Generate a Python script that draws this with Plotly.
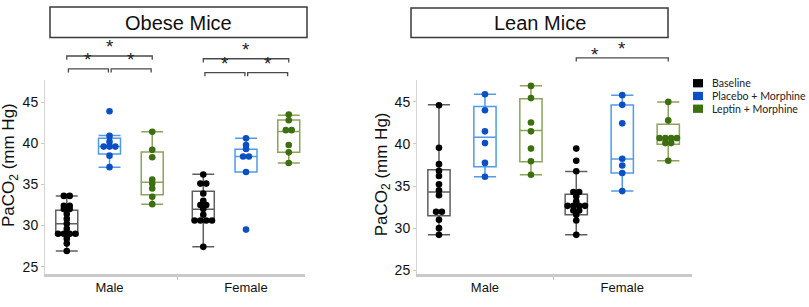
import plotly.graph_objects as go
from collections import Counter

# ---------------- data ----------------
groups = ["Male", "Female"]
series = ["Baseline", "Placebo + Morphine", "Leptin + Morphine"]
panels = ["Obese Mice", "Lean Mice"]
y_ticks = [25, 30, 35, 40, 45]

# Obese mice – individual values (mm Hg)
obese_male_baseline = [33.6, 33.6, 32.4, 32.4, 32.0, 32.0, 31.4, 30.8, 30.2, 29.6,
                       29.0, 29.0, 29.0, 29.0, 28.4, 27.8, 26.9]
obese_male_placebo = [43.9, 40.9, 40.2, 39.6, 39.6, 39.6, 38.5, 37.1]
obese_male_leptin = [41.4, 39.2, 38.3, 35.6, 35.1, 34.5, 33.5, 32.6]
obese_female_baseline = [36.2, 35.1, 35.1, 33.9, 33.0, 32.5, 32.5, 32.0, 31.3,
                         30.6, 30.6, 30.6, 30.6, 27.4]
obese_female_placebo = [40.6, 39.8, 39.3, 38.4, 38.4, 36.5, 29.5]
obese_female_leptin = [43.5, 42.8, 41.6, 41.6, 39.8, 38.9, 37.6]

# Lean mice – individual values (mm Hg)
lean_male_baseline = [44.6, 39.55, 37.6, 36.8, 36.2, 35.2, 34.5, 33.9, 31.95, 31.95,
                      31.0, 30.0, 29.2]
lean_male_placebo = [45.9, 44.0, 41.5, 40.1, 37.75, 36.1]
lean_male_leptin = [46.9, 45.45, 42.55, 41.5, 39.45, 37.95, 36.35]
lean_female_baseline = [39.45, 38.0, 36.75, 34.3, 34.3, 33.8, 33.2, 32.65, 32.65,
                        32.65, 32.65, 32.1, 32.1, 31.6, 30.9, 29.2]
lean_female_placebo = [45.8, 44.65, 42.45, 38.25, 37.45, 36.55, 34.4]
lean_female_leptin = [45.0, 42.8, 40.7, 40.7, 40.7, 40.7, 40.1, 40.1, 38.0]

# Box statistics as drawn: [q1, median, q3, lower fence, upper fence]
obese_male_stats = [[28.8, 30.2, 31.85, 26.9, 33.6],
                    [38.7, 39.6, 40.6, 37.1, 40.95],
                    [33.73, 35.25, 38.95, 32.6, 41.4]]
obese_female_stats = [[30.73, 31.97, 34.17, 27.4, 36.24],
                      [36.5, 38.4, 39.27, 36.5, 40.6],
                      [38.9, 41.45, 42.83, 37.6, 43.4]]
lean_male_stats = [[31.47, 34.3, 36.95, 29.2, 44.65],
                   [37.3, 40.8, 44.45, 36.1, 45.9],
                   [37.9, 41.6, 45.36, 36.33, 46.93]]
lean_female_stats = [[31.58, 32.64, 34.03, 29.2, 36.73],
                     [36.55, 38.2, 44.63, 34.4, 45.8],
                     [39.98, 40.4, 42.33, 38.0, 45.0]]

# significance comparisons: (panel, group, series a, series b, level)
sig_brackets = [(0, 0, 0, 2, "top"), (0, 0, 0, 1, "low"), (0, 0, 1, 2, "low"),
                (0, 1, 0, 2, "top"), (0, 1, 0, 1, "low"), (0, 1, 1, 2, "low"),
                (1, 1, 0, 2, "top")]
sig_lone_stars = [(1, 1, 0, 1, "low")]

values = [
    [[obese_male_baseline, obese_male_placebo, obese_male_leptin],
     [obese_female_baseline, obese_female_placebo, obese_female_leptin]],
    [[lean_male_baseline, lean_male_placebo, lean_male_leptin],
     [lean_female_baseline, lean_female_placebo, lean_female_leptin]],
]
stats = [[obese_male_stats, obese_female_stats], [lean_male_stats, lean_female_stats]]

# ---------------- style ----------------
W, H = 809, 307
ML, MR, MT, MB = 45, 117, 80, 17
PW = W - ML - MR
PH = H - MT - MB

point_colors = ["#000000", "#0a4fc4", "#3d6e10"]
box_colors = ["#5f5f5f", "#519ae6", "#8da35b"]
legend_colors = ["#000000", "#0a50c8", "#3e7010"]

panel_px = [(45, 305), (417, 692)]
x_ranges = [[-0.4725, 1.432], [-0.495, 1.508]]
y_ranges = [[24.1, 47.7], [24.55, 47.6]]
offsets = [0.313, 0.335]
box_w = [0.161, 0.162]
swarm_px = 5.8


def px_x(px):
    return (px - ML) / PW


def px_y(py):
    return (MT + PH - py) / PH


def swarm(vals, step):
    cnt = Counter(vals)
    seen = {}
    out = []
    for v in vals:
        n = cnt[v]
        k = seen.get(v, 0)
        seen[v] = k + 1
        out.append((k - (n - 1) / 2) * step)
    return out


fig = go.Figure()

for p in range(2):
    xa = "x" if p == 0 else "x2"
    ya = "y" if p == 0 else "y2"
    unit_px = (panel_px[p][1] - panel_px[p][0]) / (x_ranges[p][1] - x_ranges[p][0])
    for g in range(2):
        for s in range(3):
            pos = g + (s - 1) * offsets[p]
            q1, med, q3, lf, uf = stats[p][g][s]
            fig.add_trace(go.Box(
                x=[pos], q1=[q1], median=[med], q3=[q3],
                lowerfence=[lf], upperfence=[uf],
                width=box_w[p], whiskerwidth=1, boxpoints=False,
                line=dict(color=box_colors[s], width=1.5),
                fillcolor="rgba(0,0,0,0)", showlegend=False,
                hoverinfo="skip", xaxis=xa, yaxis=ya))
    for g in range(2):
        for s in range(3):
            pos = g + (s - 1) * offsets[p]
            vals = values[p][g][s]
            offs = swarm(vals, swarm_px / unit_px)
            fig.add_trace(go.Scatter(
                x=[pos + o for o in offs], y=vals, mode="markers",
                marker=dict(color=point_colors[s], size=6.6, line=dict(width=0)),
                showlegend=False, xaxis=xa, yaxis=ya, cliponaxis=False))

shapes = []
annotations = []

# axes
axis_common = dict(showgrid=False, zeroline=False)
for p in range(2):
    xname = "xaxis" if p == 0 else "xaxis2"
    yname = "yaxis" if p == 0 else "yaxis2"
    dom = [px_x(panel_px[p][0]), px_x(panel_px[p][1])]
    fig.update_layout(**{
        xname: dict(domain=dom, range=x_ranges[p], tickvals=[0, 1], ticktext=groups,
                    showline=True, linecolor="#c9c9c9", linewidth=2.5, ticks="",
                    tickfont=dict(family="Liberation Sans", size=13, color="#111"),
                    anchor="y" if p == 0 else "y2",
                    minor=dict(tickvals=[0.5], ticks="outside", ticklen=3,
                               tickcolor="#bbbbbb", tickwidth=1),
                    **axis_common),
        yname: dict(domain=[0, 1], range=y_ranges[p], tickvals=y_ticks,
                    showline=True, linecolor="#d6d6d6", linewidth=1,
                    ticks="outside", ticklen=3, tickcolor="#c8c8c8",
                    tickfont=dict(family="Liberation Sans", size=14, color="#111"),
                    anchor="x" if p == 0 else "x2", **axis_common),
    })

# y-axis titles
ytitle_px = [(10, 172), (383, 182)]
for p in range(2):
    annotations.append(dict(
        text="PaCO<sub>2</sub> (mm Hg)", x=px_x(ytitle_px[p][0]), y=px_y(ytitle_px[p][1]),
        xref="paper", yref="paper", showarrow=False, textangle=-90,
        xanchor="center", yanchor="middle",
        font=dict(family="Liberation Sans", size=17, color="#111")))

# panel title boxes
title_box_px = [(50, 1, 307, 34), (411, 2, 668, 34)]
for p in range(2):
    x0, y0, x1, y1 = title_box_px[p]
    shapes.append(dict(type="rect", xref="paper", yref="paper",
                       x0=px_x(x0), x1=px_x(x1), y0=px_y(y1), y1=px_y(y0),
                       line=dict(color="#3a3a3a", width=1.5), fillcolor="white"))
    annotations.append(dict(text=panels[p], x=px_x((x0 + x1) / 2), y=px_y((y0 + y1) / 2 + 0.5),
                            xref="paper", yref="paper", showarrow=False,
                            xanchor="center", yanchor="middle",
                            font=dict(family="Liberation Sans", size=20, color="#111")))

# significance brackets (pixel heights of bracket lines per panel/group)
level_px = {(0, 0): {"top": 54, "low": 68}, (0, 1): {"top": 57, "low": 72},
            (1, 0): {"top": 56, "low": 70}, (1, 1): {"top": 56, "low": 69}}
star_font = dict(family="Liberation Sans", size=19, color="#222")
for (p, g, a, b, lev) in sig_brackets:
    xa = "x" if p == 0 else "x2"
    pa = g + (a - 1) * offsets[p]
    pb = g + (b - 1) * offsets[p]
    if lev == "low":
        pa += 0.012
        pb -= 0.008
    yl = level_px[(p, g)][lev]
    path = "M {a},{t} L {a},{y} L {b},{y} L {b},{t}".format(
        a=pa, b=pb, y=px_y(yl), t=px_y(yl + 4))
    shapes.append(dict(type="path", path=path, xref=xa, yref="paper",
                       line=dict(color="#4a4a4a", width=1.3)))
    annotations.append(dict(text="*", x=(pa + pb) / 2, y=px_y(yl - 2), xref=xa, yref="paper",
                            showarrow=False, xanchor="center", yanchor="bottom",
                            yshift=-5, font=star_font))
for (p, g, a, b, lev) in sig_lone_stars:
    xa = "x" if p == 0 else "x2"
    pa = g + (a - 1) * offsets[p]
    pb = g + (b - 1) * offsets[p]
    annotations.append(dict(text="*", x=(pa + pb) / 2 - 0.03, y=px_y(61), xref=xa, yref="paper",
                            showarrow=False, xanchor="center", yanchor="bottom",
                            yshift=-5, font=star_font))

# legend (drawn manually)
leg_x, leg_y0, leg_dy = 693, 83.5, 13.8
for i, name in enumerate(series):
    cy = leg_y0 + i * leg_dy
    shapes.append(dict(type="rect", xref="paper", yref="paper",
                       x0=px_x(leg_x), x1=px_x(leg_x + 10),
                       y0=px_y(cy + 4.5), y1=px_y(cy - 4.5),
                       line=dict(width=0), fillcolor=legend_colors[i]))
    annotations.append(dict(text=name, x=px_x(leg_x + 18), y=px_y(cy), xref="paper", yref="paper",
                            showarrow=False, xanchor="left", yanchor="middle", borderpad=0,
                            font=dict(family="Lato", size=10.6, color="#222")))

fig.update_layout(
    width=W, height=H,
    margin=dict(l=ML, r=MR, t=MT, b=MB),
    paper_bgcolor="white", plot_bgcolor="white",
    showlegend=False, boxmode="overlay",
    shapes=shapes, annotations=annotations,
)

fig.write_html("out.html", config={"displayModeBar": False},
               post_script="document.body.style.margin='0px';")
